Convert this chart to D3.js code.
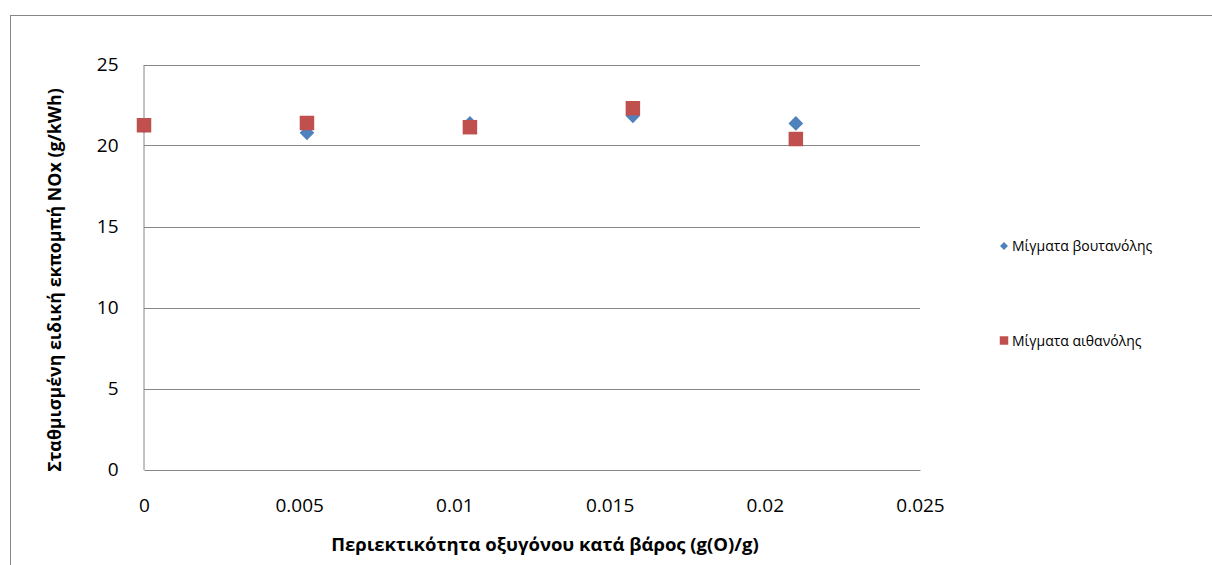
<!DOCTYPE html>
<html>
<head>
<meta charset="utf-8">
<script src="https://cdn.jsdelivr.net/npm/d3@7"></script>
<style>
  html, body { margin: 0; padding: 0; background: #fff; }
  svg { display: block; }
  text { font-family: "Open Sans", "Liberation Sans", sans-serif; fill: #000; }
</style>
</head>
<body>
<svg id="chart" width="1212" height="565"></svg>
<script>
// Oxygen mass fraction of each blend (g(O)/g)
const oxygenButanol = [0, 0.00525, 0.0105, 0.01575, 0.0210];
const noxButanol    = [21.22, 20.78, 21.36, 21.83, 21.36];
const oxygenEthanol = [0, 0.00525, 0.0105, 0.01575, 0.0210];
const noxEthanol    = [21.25, 21.39, 21.13, 22.30, 20.40];

const seriesNames = ["Μίγματα βουτανόλης", "Μίγματα αιθανόλης"];
const seriesColors = ["#4F81BD", "#C0504D"];

const xTicks = [0, 0.005, 0.01, 0.015, 0.02, 0.025];
const xTickLabels = ["0", "0.005", "0.01", "0.015", "0.02", "0.025"];
const yTicks = [0, 5, 10, 15, 20, 25];
const yTickLabels = ["0", "5", "10", "15", "20", "25"];

const xTitle = "Περιεκτικότητα οξυγόνου κατά βάρος (g(O)/g)";
const yTitle = "Σταθμισμένη ειδική εκπομπή NOx (g/kWh)";

const svg = d3.select("#chart");
const gridColor = "#868686";

// chart area frame
svg.append("rect")
  .attr("x", 10.5).attr("y", 15.5)
  .attr("width", 1300).attr("height", 700)
  .attr("fill", "#fff").attr("stroke", gridColor).attr("stroke-width", 1);

const x = d3.scaleLinear().domain([0, 0.025]).range([144, 920]);
const y = d3.scaleLinear().domain([0, 25]).range([469.5, 64.5]);

// horizontal gridlines
svg.append("g").selectAll("line")
  .data(yTicks.filter(d => d > 0))
  .join("line")
  .attr("x1", x(0)).attr("x2", x(0.025))
  .attr("y1", d => Math.round(y(d)) + 0.5).attr("y2", d => Math.round(y(d)) + 0.5)
  .attr("stroke", gridColor).attr("stroke-width", 1);

// axes
const yAxis = d3.axisLeft(y).tickValues(yTicks)
  .tickFormat((d, i) => yTickLabels[i]).tickSize(0).tickPadding(25);
const gy = svg.append("g").attr("transform", `translate(${x(0) - 0.5},0)`).call(yAxis);
gy.select(".domain").attr("stroke", gridColor);
gy.selectAll("text").style("font-size", "19px").attr("fill", "#000");

const xAxis = d3.axisBottom(x).tickValues(xTicks)
  .tickFormat((d, i) => xTickLabels[i]).tickSize(0).tickPadding(29);
const gx = svg.append("g").attr("transform", `translate(0,${y(0) + 0.5})`).call(xAxis);
gx.select(".domain").attr("stroke", gridColor);
gx.selectAll("text").style("font-size", "19px").attr("fill", "#000");

// markers
const diamond = d3.symbol().type(d3.symbolSquare).size(108);
const square = d3.symbol().type(d3.symbolSquare).size(210);

svg.append("g").selectAll("path")
  .data(oxygenButanol.map((o, i) => [o, noxButanol[i]]))
  .join("path")
  .attr("d", diamond)
  .attr("transform", d => `translate(${x(d[0])},${y(d[1])}) rotate(45)`)
  .attr("fill", seriesColors[0]);

svg.append("g").selectAll("path")
  .data(oxygenEthanol.map((o, i) => [o, noxEthanol[i]]))
  .join("path")
  .attr("d", square)
  .attr("transform", d => `translate(${x(d[0])},${y(d[1])})`)
  .attr("fill", seriesColors[1]);

// axis titles
svg.append("text")
  .attr("x", 545).attr("y", 551)
  .attr("text-anchor", "middle")
  .style("font-size", "18.5px").style("font-weight", "bold")
  .text(xTitle);

svg.append("text")
  .attr("transform", "translate(61,280) rotate(-90)")
  .attr("text-anchor", "middle")
  .style("font-size", "17.8px").style("font-weight", "bold")
  .text(yTitle);

// legend
const legendY = [246, 340.5];
const legend = svg.append("g").selectAll("g")
  .data(seriesNames)
  .join("g")
  .attr("transform", (d, i) => `translate(1004,${legendY[i]})`);

legend.append("path")
  .attr("d", (d, i) => i === 0
    ? d3.symbol().type(d3.symbolSquare).size(32)()
    : d3.symbol().type(d3.symbolSquare).size(72)())
  .attr("transform", (d, i) => i === 0 ? "rotate(45)" : null)
  .attr("fill", (d, i) => seriesColors[i]);

legend.append("text")
  .attr("x", 8).attr("y", 5)
  .style("font-size", "14px")
  .text(d => d);
</script>
</body>
</html>
